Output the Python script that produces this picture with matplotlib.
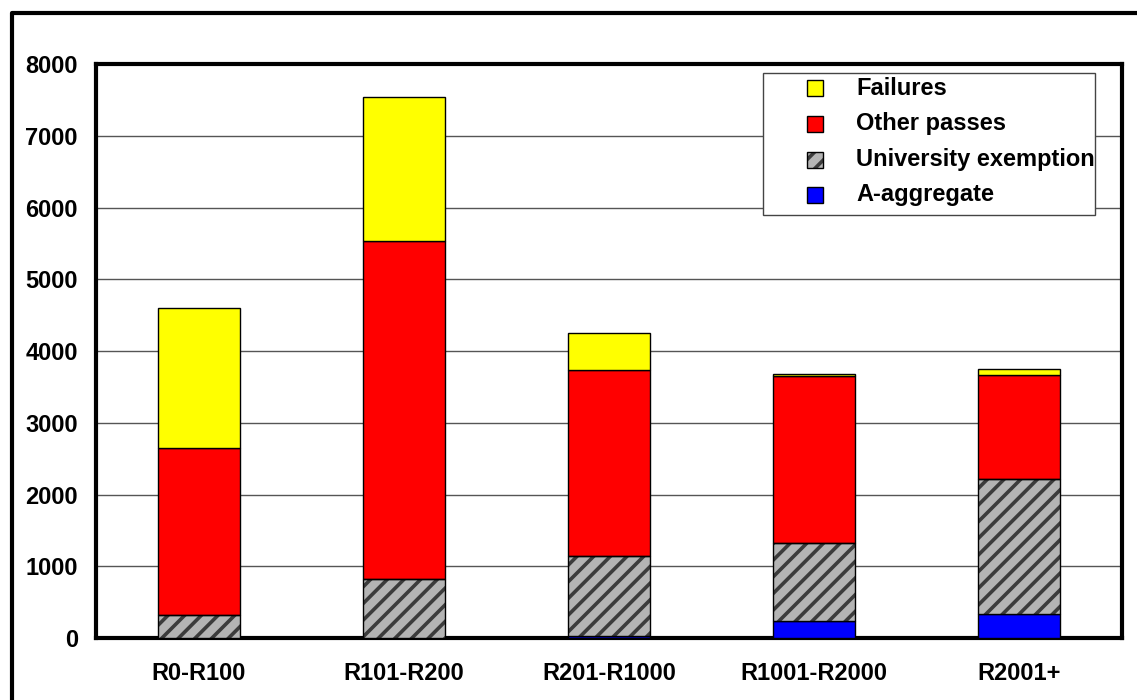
import matplotlib
matplotlib.use('Agg')
import matplotlib.pyplot as plt
import numpy as np
from matplotlib.patches import Rectangle
from matplotlib.lines import Line2D

plt.rcParams['font.family'] = ['Liberation Sans', 'DejaVu Sans']
plt.rcParams['font.weight'] = 'bold'
plt.rcParams['hatch.linewidth'] = 2.6

categories = ['R0-R100', 'R101-R200', 'R201-R1000', 'R1001-R2000', 'R2001+']
a_aggregate = [0, 0, 30, 235, 330]
university_exemption = [320, 820, 1115, 1090, 1885]
other_passes = [2335, 4710, 2585, 2320, 1445]
failures = [1945, 2015, 520, 30, 85]
y_ticks = [0, 1000, 2000, 3000, 4000, 5000, 6000, 7000, 8000]

fig = plt.figure(figsize=(11.37, 7.0), dpi=100)
ax = fig.add_axes([96 / 1137, 1 - 638 / 700, 1026 / 1137, 574 / 700])

x = np.arange(len(categories))
w = 0.4
bottom = np.zeros(len(categories))

# blue base
ax.bar(x, a_aggregate, w, bottom=bottom, color='#0000ff', edgecolor='black', linewidth=1.0, zorder=3)
bottom += a_aggregate

# hatched layer: hatch colour follows edgecolor, so outline drawn separately
ax.bar(x, university_exemption, w, bottom=bottom, color='#b4b4b4', edgecolor='#3c3c3c',
       hatch='//', linewidth=0, zorder=3)
ax.bar(x, university_exemption, w, bottom=bottom, facecolor='none', edgecolor='black',
       linewidth=1.0, zorder=4)
bottom += university_exemption

ax.bar(x, other_passes, w, bottom=bottom, color='#ff0000', edgecolor='black', linewidth=1.0, zorder=3)
bottom += other_passes

ax.bar(x, failures, w, bottom=bottom, color='#ffff00', edgecolor='black', linewidth=1.0, zorder=3)

ax.set_xlim(-0.5, len(categories) - 0.5)
ax.set_ylim(0, 8000)
ax.set_yticks(y_ticks)
ax.set_yticklabels([str(t) for t in y_ticks], fontsize=17, fontweight='bold')
ax.set_xticks(x)
ax.set_xticklabels(categories, fontsize=17, fontweight='bold')
ax.tick_params(axis='y', length=0, pad=13)
ax.tick_params(axis='x', length=0, pad=17)
ax.yaxis.grid(True, color='#555555', linewidth=1.0, zorder=1)
ax.set_axisbelow(True)
for s in ax.spines.values():
    s.set_linewidth(3.0)
    s.set_color('black')

# legend box
ax.add_patch(Rectangle((0.650, 0.737), 0.3237, 0.247, transform=ax.transAxes,
                       facecolor='white', edgecolor='#444444', linewidth=1.0, zorder=5))
entries = [('Failures', '#ffff00', None), ('Other passes', '#ff0000', None),
           ('University exemption', '#b4b4b4', '//'), ('A-aggregate', '#0000ff', None)]
ys = [0.958, 0.8955, 0.8328, 0.7718]
for (label, col, hatch), yy in zip(entries, ys):
    if hatch:
        ax.add_patch(Rectangle((0.693, yy - 0.014), 0.0156, 0.028, transform=ax.transAxes,
                               facecolor=col, edgecolor='#3c3c3c', hatch=hatch, linewidth=0, zorder=6))
        ax.add_patch(Rectangle((0.693, yy - 0.014), 0.0156, 0.028, transform=ax.transAxes,
                               facecolor='none', edgecolor='black', linewidth=1.0, zorder=7))
    else:
        ax.add_patch(Rectangle((0.693, yy - 0.014), 0.0156, 0.028, transform=ax.transAxes,
                               facecolor=col, edgecolor='black', linewidth=1.0, zorder=6))
    ax.text(0.7407, yy, label, transform=ax.transAxes, fontsize=17, fontweight='bold',
            va='center', ha='left', zorder=7, clip_on=True)

# outer frame
fig.add_artist(Line2D([12 / 1137, 12 / 1137, 1.05], [-0.05, 1 - 13 / 700, 1 - 13 / 700],
                      transform=fig.transFigure, color='black', linewidth=3.0))

fig.savefig('out.png', dpi=100)
